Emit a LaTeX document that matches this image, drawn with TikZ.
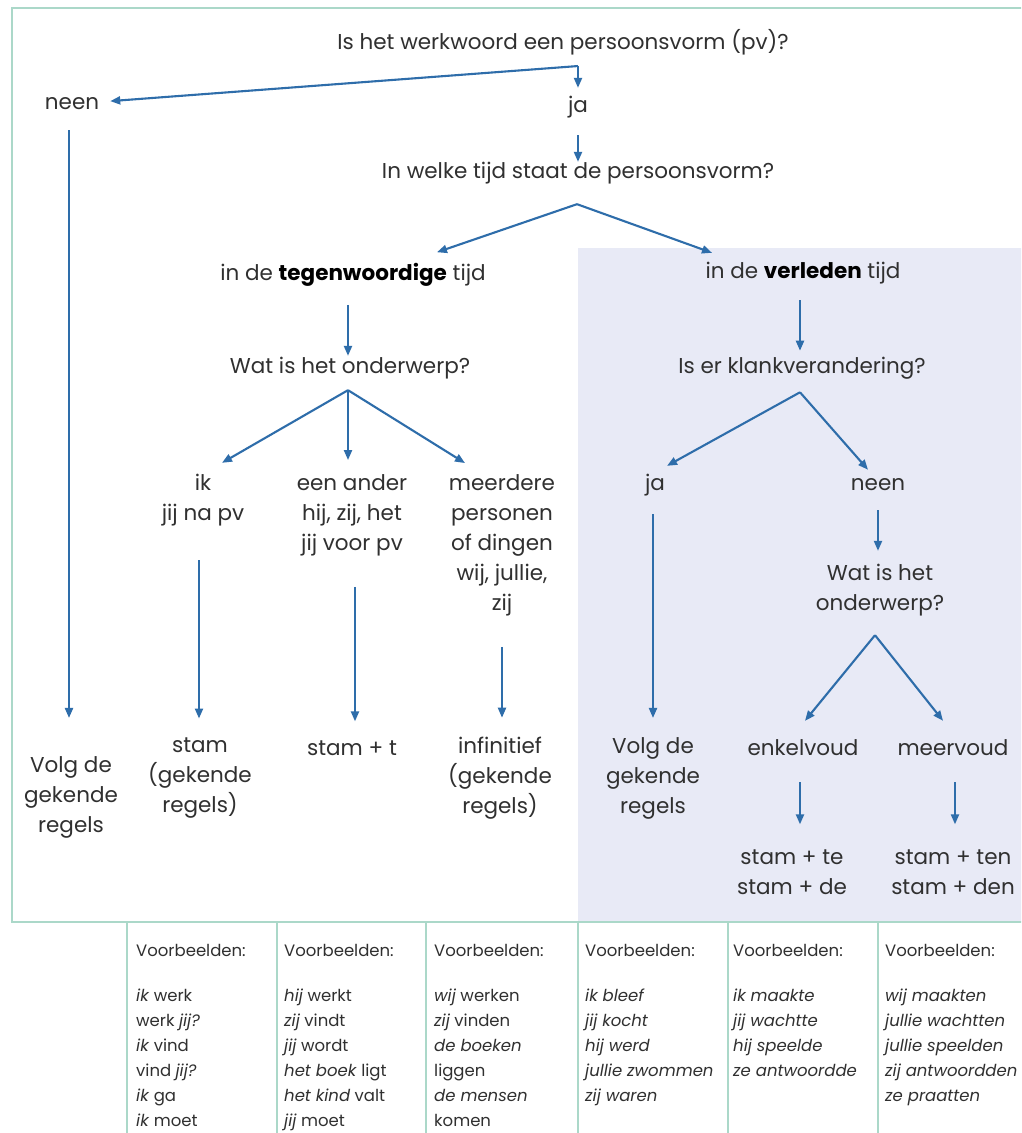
\documentclass[tikz,border=0pt]{standalone}
\usepackage{fontspec}
\setmainfont{Poppins}
\usetikzlibrary{arrows.meta,calc}
\definecolor{arrblue}{HTML}{2E6DAA}
\definecolor{txt}{HTML}{303030}
\definecolor{bordergreen}{HTML}{ABD8C9}
\definecolor{lav}{HTML}{E8EAF6}
\begin{document}
\begin{tikzpicture}[x=1pt,y=-1pt,
  lbl/.style={inner sep=0pt, text=txt, font=\fontsize{21.5}{30}\selectfont, align=center},
  arr/.style={draw=arrblue, line width=2.1pt, -{Triangle[length=10pt,width=8pt]}},
  ex/.style={inner sep=0pt, anchor=north west, text=txt, font=\fontsize{16.5}{25}\selectfont, align=left},
  frame/.style={draw=bordergreen, line width=1.6pt}]
\useasboundingbox (0,0) rectangle (1021,1133);
\clip (0,0) rectangle (1021,1133);
\fill[white] (0,0) rectangle (1021,1133);
\fill[lav] (578,248) rectangle (1040,922);
\draw[frame] (1040,8) -- (12,8) -- (12,922) -- (1040,922);
\foreach \x in {127,277,426,578,728,878} \draw[frame] (\x,922) -- (\x,1140);

% nodes
\node[lbl] (q1) at (563,42) {Is het werkwoord een persoonsvorm (pv)?};
\node[lbl] (neen1) at (72,104) {neen};
\node[lbl] (ja1) at (578,107) {ja};
\node[lbl] (q2) at (578,173) {In welke tijd staat de persoonsvorm?};
\node[lbl] (tegen) at (353,275) {in de \textbf{\color{black}tegenwoordige} tijd};
\node[lbl] (verleden) at (803,273) {in de \textbf{\color{black}verleden} tijd};
\node[lbl] (q3) at (350,368) {Wat is het onderwerp?};
\node[lbl] (q4) at (802,368) {Is er klankverandering?};
\node[lbl] (ik) at (203,500) {ik\\jij na pv};
\node[lbl] (ander) at (352,515) {een ander\\hij, zij, het\\jij voor pv};
\node[lbl] (meer) at (502,545) {meerdere\\personen\\of dingen\\wij, jullie,\\zij};
\node[lbl] (ja2) at (655,485) {ja};
\node[lbl] (neen2) at (878,485) {neen};
\node[lbl] (q5) at (880,590) {Wat is het\\onderwerp?};
\node[lbl] (volg1) at (71,797) {Volg de\\gekende\\regels};
\node[lbl] (stam) at (200,778) {stam\\(gekende\\regels)};
\node[lbl] (stamt) at (352,748) {stam + t};
\node[lbl] (inf) at (500,778) {infinitief\\(gekende\\regels)};
\node[lbl] (volg2) at (653,778) {Volg de\\gekende\\regels};
\node[lbl] (enkel) at (803,748) {enkelvoud};
\node[lbl] (meer2) at (953,748) {meervoud};
\node[lbl] (te) at (792,872) {stam + te\\stam + de};
\node[lbl] (ten) at (953,872) {stam + ten\\stam + den};

% junction points
\coordinate (apex1) at ($(q1.south)+(15,11)$);
\coordinate (apex2) at ($(q2.south)+(-1,20)$);
\coordinate (apex3) at ($(q3.south)+(-2,11)$);
\coordinate (apex4) at ($(q4.south)+(-2,13)$);
\coordinate (apex5) at ($(q5.south)+(-5,19)$);

% connectors
\draw[arr, shorten >=11pt] (apex1) -- (neen1);
\draw[arr, shorten >=8pt] (apex1) -- (apex1 |- ja1.north);
\draw[arr, shorten <=17pt] (ja1.south) -- (q2.north);
\draw[arr] (apex2) -- ($(tegen.north)+(84,-11)$);
\draw[arr] (apex2) -- ($(verleden.north)+(-91,-9)$);
\draw[arr, shorten <=18pt, shorten >=1pt] (tegen.south -| apex3) -- (apex3 |- q3.north);
\draw[arr, shorten <=16pt, shorten >=6pt] (verleden.south -| apex4) -- (apex4 |- q4.north);
\draw[arr] (apex3) -- ($(ik.north)+(19,-11)$);
\draw[arr] (apex3) -- ($(ander.north)+(-4,-14)$);
\draw[arr] (apex3) -- ($(meer.north)+(-37,-11)$);
\draw[arr] (apex4) -- ($(ja2.north)+(12,-8)$);
\draw[arr] (apex4) -- ($(neen2.north)+(-10,-9)$);
\draw[arr, shorten <=20pt, shorten >=38pt] ($(neen1.south)+(-3,0)$) -- ($(neen1.south |- volg1.north)+(-3,0)$);
\draw[arr, shorten <=34pt, shorten >=19pt] ($(ik.south)+(-4,0)$) -- ($(ik.south |- stam.north)+(-4,0)$);
\draw[arr, shorten <=31pt, shorten >=19pt] ($(ander.south)+(3,0)$) -- ($(ander.south |- stamt.north)+(3,0)$);
\draw[arr, shorten <=31pt, shorten >=19pt] (meer.south) -- (meer.south |- inf.north);
\draw[arr, shorten <=18pt, shorten >=19pt] ($(ja2.south)+(-2,0)$) -- ($(ja2.south |- volg2.north)+(-2,0)$);
\draw[arr, shorten <=19pt, shorten >=13pt] (neen2.south) -- (neen2.south |- q5.north);
\draw[arr] (apex5) -- ($(enkel.north)+(2,-19)$);
\draw[arr] (apex5) -- ($(meer2.north)+(-10,-19)$);
\draw[arr, shorten <=26pt, shorten >=25pt] ($(enkel.south)+(-3,0)$) -- ($(enkel.south |- te.north)+(-3,0)$);
\draw[arr, shorten <=26pt, shorten >=25pt] ($(meer2.south)+(2,0)$) -- ($(meer2.south |- ten.north)+(2,0)$);

% examples table
\node[ex] (ex1) at (136,944) {Voorbeelden:\\[20pt]\textit{ik} werk\\werk \textit{jij?}\\\textit{ik} vind\\vind \textit{jij?}\\\textit{ik} ga\\\textit{ik} moet};
\node[ex] (ex2) at (284,944) {Voorbeelden:\\[20pt]\textit{hij} werkt\\\textit{zij} vindt\\\textit{jij} wordt\\\textit{het boek} ligt\\\textit{het kind} valt\\\textit{jij} moet};
\node[ex] (ex3) at (434,944) {Voorbeelden:\\[20pt]\textit{wij} werken\\\textit{zij} vinden\\\textit{de boeken}\\liggen\\\textit{de mensen}\\komen};
\node[ex] (ex4) at (585,944) {Voorbeelden:\\[20pt]\textit{ik bleef}\\\textit{jij kocht}\\\textit{hij werd}\\\textit{jullie zwommen}\\\textit{zij waren}};
\node[ex] (ex5) at (733,944) {Voorbeelden:\\[20pt]\textit{ik maakte}\\\textit{jij wachtte}\\\textit{hij speelde}\\\textit{ze antwoordde}};
\node[ex] (ex6) at (885,944) {Voorbeelden:\\[20pt]\textit{wij maakten}\\\textit{jullie wachtten}\\\textit{jullie speelden}\\\textit{zij antwoordden}\\\textit{ze praatten}};
\end{tikzpicture}
\end{document}
